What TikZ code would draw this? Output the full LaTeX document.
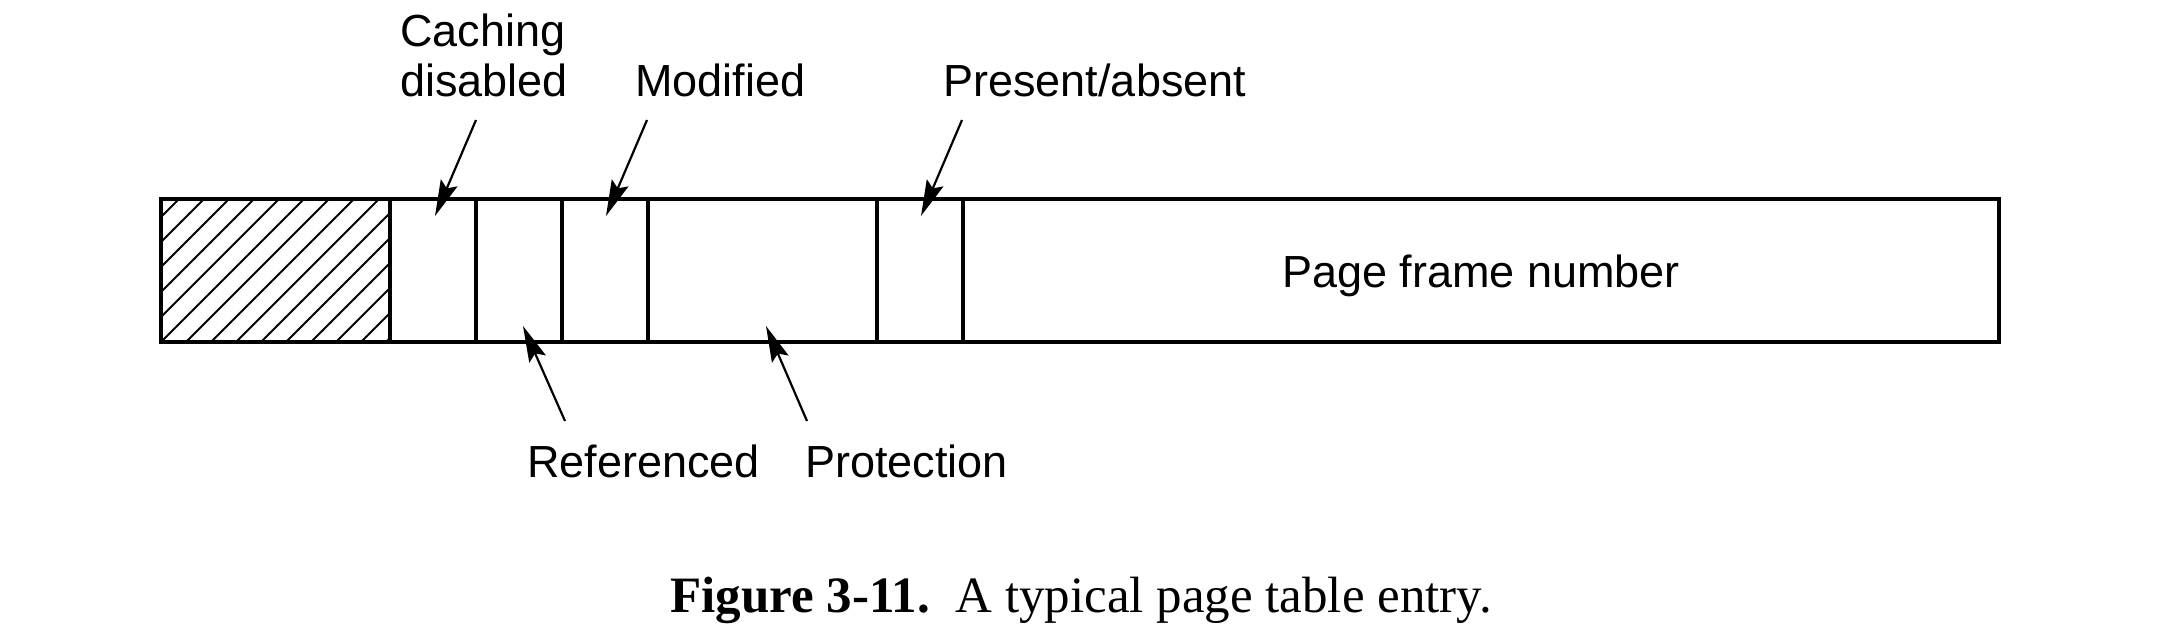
\documentclass[tikz,border=0pt]{standalone}
\usepackage{fontspec}
\setmainfont{Liberation Serif}
\newfontfamily\helv{Liberation Sans}
\usetikzlibrary{arrows.meta}
\begin{document}
\begin{tikzpicture}[x=0.5pt, y=-0.5pt,
    field/.style={draw, line width=1.8pt, minimum height=71.5pt, inner sep=0pt, outer sep=0pt, anchor=north west},
    lbl/.style={font=\helv\fontsize{22.5}{25}\selectfont, inner sep=0pt, anchor=base west, align=left},
    ptr/.style={-{Stealth[length=18pt, width=9pt, inset=3pt]}, line width=1.1pt}]
  \useasboundingbox (0,0) rectangle (2162,636);

  % the fields of the entry
  \foreach \n/\l/\w in {H/161/114.5pt, C/390/43pt, R/476/43pt, M/562/43pt, P/648/114.5pt, A/877/43pt, F/963/518pt}
    \node[field, minimum width=\w] (\n) at (\l,199) {};
  \begin{scope}
    \clip (H.north west) rectangle (H.south east);
    \foreach \k in {11,36,...,386}
      \draw[line width=0.9pt] (\k,342) -- ++(143,-143);
  \end{scope}
  \draw[line width=2.1pt] (H.north west) rectangle (F.south east);

  \node[lbl, anchor=base] (Fl) at (1481,287) {Page frame number};

  % labels
  \node[lbl] (Cl) at (400,97) {Caching\\disabled};
  \node[lbl] (Ml) at (635,97) {Modified};
  \node[lbl] (Al) at (943,97) {Present/absent};
  \node[lbl] (Rl) at (527,477) {Referenced};
  \node[lbl] (Pl) at (805,477) {Protection};

  \coordinate (Ct) at (476,120); \coordinate (Ch) at (435,216);
  \coordinate (Mt) at (647,120); \coordinate (Mh) at (606,216);
  \coordinate (At) at (962,120); \coordinate (Ah) at (921,216);
  \coordinate (Rt) at (565,421); \coordinate (Rh) at (523,326);
  \coordinate (Pt) at (807,421); \coordinate (Ph) at (766,326);
  \draw[ptr] (Ct) -- (Ch);
  \draw[ptr] (Mt) -- (Mh);
  \draw[ptr] (At) -- (Ah);
  \draw[ptr] (Rt) -- (Rh);
  \draw[ptr] (Pt) -- (Ph);

  \node[font=\fontsize{25.5}{30}\selectfont, inner sep=0pt, anchor=base] (cap) at (1081,612)
    {\textbf{Figure 3-11.}\enspace A typical page table entry.};
\end{tikzpicture}
\end{document}
